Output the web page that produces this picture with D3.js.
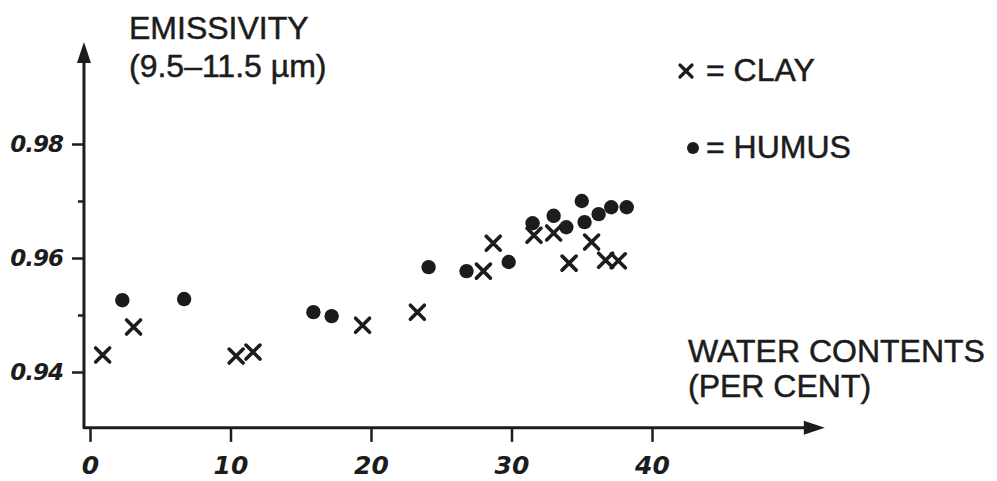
<!DOCTYPE html>
<html><head><meta charset="utf-8">
<script src="https://cdn.jsdelivr.net/npm/d3@7"></script>
<style>
html,body{margin:0;padding:0;background:#fff;}
svg{display:block;}
.lbl{font-family:"Liberation Sans",Arial,sans-serif;fill:#1c1c1c;stroke:#1c1c1c;stroke-width:0.5;}
.tick text{font-family:"DejaVu Sans",sans-serif;font-style:italic;font-weight:bold;fill:#1c1c1c;}
</style></head>
<body>
<svg id="c" width="997" height="481"></svg>
<script>
// ---- data ----
const clayWater = [0.9, 3.1, 10.4, 11.6, 19.4, 23.3, 28.0, 28.7, 31.6, 33.0, 34.1, 35.7, 36.7, 37.6];
const clayEmis  = [0.9430, 0.9479, 0.9428, 0.9435, 0.9482, 0.9505, 0.9577, 0.9626, 0.9640, 0.9644, 0.9591, 0.9628, 0.9596, 0.9595];
const humusWater = [2.3, 6.7, 15.9, 17.2, 24.1, 26.8, 29.8, 31.5, 33.0, 33.9, 35.0, 35.2, 36.2, 37.1, 38.2];
const humusEmis  = [0.9526, 0.9528, 0.9505, 0.9498, 0.9584, 0.9577, 0.9593, 0.9661, 0.9674, 0.9654, 0.9700, 0.9663, 0.9677, 0.9689, 0.9689];
const xTicks = [0, 10, 20, 30, 40];
const xTickLabels = ["0", "10", "20", "30", "40"];
const yTicks = [0.94, 0.96, 0.98];
const yTickLabels = ["0.94", "0.96", "0.98"];
const yMinorTicks = [0.95, 0.97];
const yTitle = ["EMISSIVITY", "(9.5–11.5 µm)"];
const xTitle = ["WATER CONTENTS", "(PER CENT)"];
const legendLabels = ["= CLAY", "= HUMUS"];

// ---- drawing ----
const svg = d3.select("#c");
const ink = "#1c1c1c";
const x = d3.scaleLinear().domain([0, 40]).range([90, 652]);
const y = d3.scaleLinear().domain([0.94, 0.98]).range([372, 144]);
const xStart = -0.43, xEnd = 52.3;   // axis line extent (data units)
const yStart = 0.9302, yEnd = 0.9979;

// axes lines
const ax = svg.append("g").attr("stroke", ink).attr("stroke-width", 3).attr("fill", "none");
ax.append("path").attr("d", `M${x(xStart)},${y(yEnd)+18} L${x(xStart)},${y(yStart)} L${x(xEnd)-18},${y(yStart)}`)
  .attr("stroke-linejoin", "round");
// arrowheads
svg.append("path").attr("fill", ink)
  .attr("d", `M${x(xStart)},${y(yEnd)} L${x(xStart)-7},${y(yEnd)+21} L${x(xStart)+7},${y(yEnd)+21} Z`);
svg.append("path").attr("fill", ink)
  .attr("d", `M${x(xEnd)},${y(yStart)} L${x(xEnd)-21},${y(yStart)-7} L${x(xEnd)-21},${y(yStart)+7} Z`);

// x axis ticks
const xAxis = d3.axisBottom(x).tickValues(xTicks).tickSize(14).tickPadding(11)
  .tickFormat((d, i) => xTickLabels[i]);
const gx = svg.append("g").attr("transform", `translate(0,${y(yStart)})`).call(xAxis);
gx.select(".domain").remove();
gx.selectAll(".tick line").attr("stroke", ink).attr("stroke-width", 2.5);
gx.selectAll(".tick text").attr("font-size", 25).attr("dy", "0.85em");

// y axis ticks
const yAxis = d3.axisLeft(y).tickValues(yTicks).tickSize(12).tickPadding(9)
  .tickFormat((d, i) => yTickLabels[i]);
const gy = svg.append("g").attr("transform", `translate(${x(xStart)},0)`).call(yAxis);
gy.select(".domain").remove();
gy.selectAll(".tick line").attr("stroke", ink).attr("stroke-width", 2.5);
gy.selectAll(".tick text").attr("font-size", 23).attr("letter-spacing", -1);
const yMinor = d3.axisLeft(y).tickValues(yMinorTicks).tickSize(6).tickFormat("");
const gy2 = svg.append("g").attr("transform", `translate(${x(xStart)},0)`).call(yMinor);
gy2.select(".domain").remove();
gy2.selectAll(".tick line").attr("stroke", ink).attr("stroke-width", 2.5);

// titles
const yt = svg.append("text").attr("class", "lbl").attr("font-size", 32);
yt.selectAll("tspan").data(yTitle).join("tspan").attr("x", 129).attr("y", (d, i) => 39 + i * 38).text(d => d);
const xt = svg.append("text").attr("class", "lbl").attr("font-size", 32);
xt.selectAll("tspan").data(xTitle).join("tspan").attr("x", 688).attr("y", (d, i) => 362 + i * 35).text(d => d);

// marks
function cross(sel, s) {
  sel.attr("d", `M${-s},${-s} L${s},${s} M${-s},${s} L${s},${-s}`)
     .attr("stroke", ink).attr("stroke-width", 3.6).attr("stroke-linecap", "round").attr("fill", "none");
}
svg.append("g").selectAll("circle").data(humusWater).join("circle")
  .attr("cx", d => x(d)).attr("cy", (d, i) => y(humusEmis[i])).attr("r", 7.2).attr("fill", ink);
svg.append("g").selectAll("path").data(clayWater).join("path")
  .attr("transform", (d, i) => `translate(${x(d)},${y(clayEmis[i])})`).call(cross, 7);

// legend
svg.append("path").attr("transform", "translate(686,71)").call(cross, 6).attr("stroke-width", 3.2);
svg.append("circle").attr("cx", 693).attr("cy", 148).attr("r", 6).attr("fill", ink);
svg.append("text").attr("class", "lbl").attr("font-size", 32).attr("x", 706).attr("y", 81).text(legendLabels[0]);
svg.append("text").attr("class", "lbl").attr("font-size", 32).attr("x", 706).attr("y", 158).text(legendLabels[1]);
</script>
</body></html>
